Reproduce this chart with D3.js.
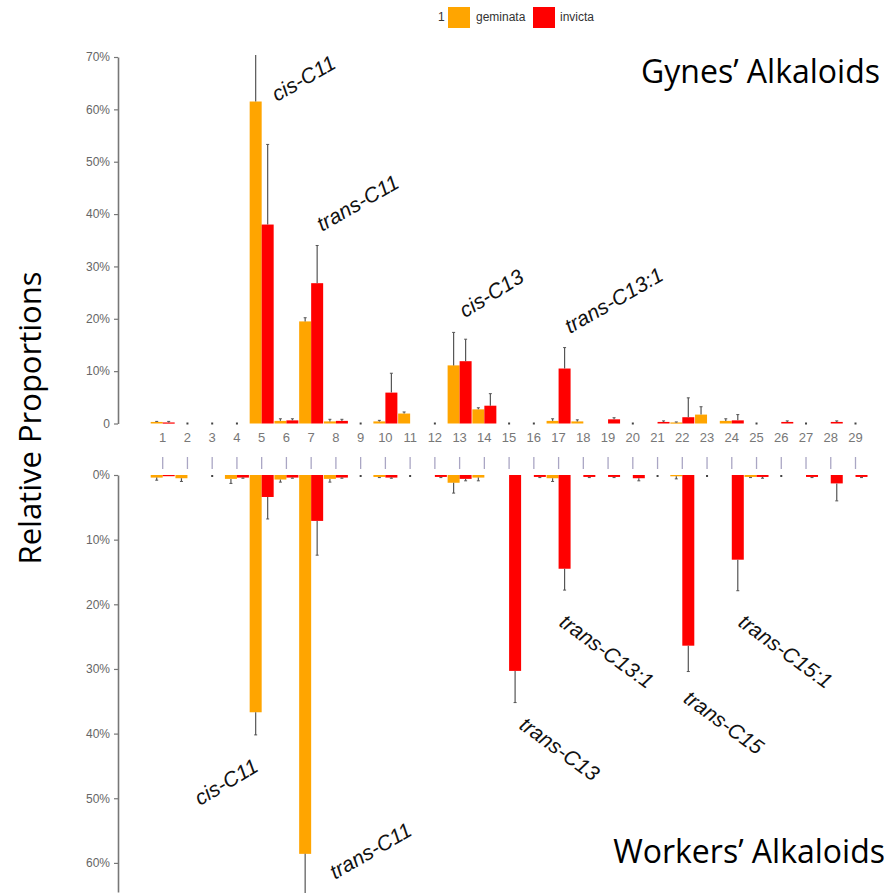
<!DOCTYPE html>
<html><head><meta charset="utf-8">
<script src="https://cdn.jsdelivr.net/npm/d3@7"></script>
<style>body{margin:0;background:#fff}svg{display:block}</style>
</head><body>
<svg id="c" width="888" height="893"></svg>
<script>
// ---------- DATA ----------
const categories = d3.range(1, 30); // 1..29
const seriesNames = ["geminata", "invicta"];
const legendTitle = "1";
// Gynes (top panel), % values and upper end of error bar
const gemTop    = [0.3,0,0,0,61.5,0.5,19.5,0.4,0,0.4,1.9,0,11.1,2.7,0,0,0.5,0.4,0,0,0,0.2,1.7,0.5,0,0,0,0,0];
const gemTopErr = [0.4,0,0,0,70.5,0.9,20.2,0.8,0,0.6,2.2,0,17.4,3.0,0,0,0.9,0.7,0,0,0,0.3,3.2,0.9,0,0,0,0,0];
const invTop    = [0.2,0,0,0,38.0,0.6,26.8,0.5,0,5.9,0,0,11.9,3.4,0,0,10.5,0,0.8,0,0.3,1.2,0,0.6,0,0.3,0,0.3,0];
const invTopErr = [0.4,0,0,0,53.3,0.9,34.0,0.8,0,9.6,0,0,16.1,5.7,0,0,14.5,0,1.1,0,0.5,4.9,0,1.7,0,0.5,0,0.5,0];
// Workers (bottom panel)
const gemBot    = [0.4,0.5,0,0.6,36.7,0.7,58.6,0.6,0,0.3,0,0,1.2,0.4,0,0,0.5,0,0,0,0,0.2,0,0,0.3,0,0,0,0];
const gemBotErr = [0.8,1.0,0,1.3,40.2,1.1,66.0,1.1,0,0.4,0,0,2.8,0.9,0,0,1.0,0,0,0,0,0.6,0,0,0.4,0,0,0,0];
const invBot    = [0.1,0,0,0.4,3.4,0.4,7.1,0.4,0,0.4,0,0.3,0.6,0,30.3,0.3,14.5,0.3,0.3,0.5,0,26.4,0,13.1,0.3,0,0.3,1.3,0.3];
const invBotErr = [0.1,0,0,0.5,6.8,0.5,12.4,0.5,0,0.5,0,0.4,0.9,0,35.2,0.4,17.8,0.4,0.4,0.9,0,30.4,0,17.9,0.5,0,0.4,4.0,0.4];
const topTicks = [0,10,20,30,40,50,60,70];
const topTickLabels = ["0","10%","20%","30%","40%","50%","60%","70%"];
const botTicks = [0,10,20,30,40,50,60];
const botTickLabels = ["0%","10%","20%","30%","40%","50%","60%"];
const yTitle = "Relative Proportions";
const topTitle = "Gynes\u2019 Alkaloids";
const botTitle = "Workers\u2019 Alkaloids";
// annotations: prefix (italic), suffix, anchor (category, value), panel, angle
const annPrefix = ["cis","trans","cis","trans","cis","trans","trans","trans","trans","trans"];
const annSuffix = ["-C11","-C11","-C13","-C13:1","-C11","-C11","-C13","-C13:1","-C15","-C15:1"];
const annCat    = [5.62,7.44,13.22,17.46,2.51,7.96,15.36,16.98,22.0,24.21];
const annVal    = [61.4,36.6,20.1,17.1,51.2,62.6,39.1,23.2,35.0,23.2];
const annPanel  = ["top","top","top","top","bot","bot","bot","bot","bot","bot"];
const annAngle  = [-30,-30,-32,-30,-31,-30,36,36,36,36];

// ---------- LAYOUT ----------
const colors = {geminata:"#FFA500", invicta:"#FF0000"};
const svg = d3.select("#c");
const xc = d3.scaleLinear().domain([1,29]).range([162.7, 855.5]);
const xs = d3.scaleBand().domain(seriesNames).range([-12, 12]).padding(0);
const yTop = d3.scaleLinear().domain([0,70]).range([423.5, 57]);
const yBot = d3.scaleLinear().domain([0,64.5]).range([475, 892]);
const axisX = 118;

const topData = [], botData = [];
categories.forEach((c,i)=>{
  topData.push({c, s:"geminata", v:gemTop[i], e:gemTopErr[i]});
  topData.push({c, s:"invicta",  v:invTop[i], e:invTopErr[i]});
  botData.push({c, s:"geminata", v:gemBot[i], e:gemBotErr[i]});
  botData.push({c, s:"invicta",  v:invBot[i], e:invBotErr[i]});
});

svg.append("clipPath").attr("id","clipTop").append("rect").attr("x",0).attr("y",55).attr("width",888).attr("height",380);

// bottom panel x ticks (above zero line)
svg.append("g").selectAll("line").data(categories).join("line")
  .attr("x1",d=>xc(d)).attr("x2",d=>xc(d)).attr("y1",457).attr("y2",469)
  .attr("stroke","#aaa6c4").attr("stroke-width",1.3);

function drawPanel(data, y, dir, clip){
  const g = svg.append("g");
  if (clip) g.attr("clip-path","url(#clipTop)");
  const nz = data.filter(d=>d.v>0);
  g.selectAll("rect").data(nz).join("rect")
    .attr("x",d=>xc(d.c)+xs(d.s)).attr("width",xs.bandwidth())
    .attr("y",d=>dir<0 ? y(d.v) : y(0))
    .attr("height",d=>Math.max(1.2, Math.abs(y(d.v)-y(0))))
    .attr("fill",d=>colors[d.s]);
  const ed = data.filter(d=>d.e>d.v);
  g.selectAll("line.err").data(ed).join("line").attr("class","err")
    .attr("x1",d=>xc(d.c)+xs(d.s)+xs.bandwidth()/2).attr("x2",d=>xc(d.c)+xs(d.s)+xs.bandwidth()/2)
    .attr("y1",d=>y(d.v)).attr("y2",d=>y(d.e))
    .attr("stroke","#555").attr("stroke-width",1.2);
  g.selectAll("line.cap").data(ed).join("line").attr("class","cap")
    .attr("x1",d=>xc(d.c)+xs(d.s)+xs.bandwidth()/2-1.5).attr("x2",d=>xc(d.c)+xs(d.s)+xs.bandwidth()/2+1.5)
    .attr("y1",d=>y(d.e)).attr("y2",d=>y(d.e))
    .attr("stroke","#555").attr("stroke-width",1);
  // zero dots for empty categories
  const empty = categories.filter(c=>!data.some(d=>d.c===c && d.v>0));
  g.selectAll("rect.dot").data(empty).join("rect").attr("class","dot")
    .attr("x",d=>xc(d)-1).attr("y",y(0)-(dir<0?1:0)).attr("width",2).attr("height",2).attr("fill","#444");
}
drawPanel(topData, yTop, -1, true);
drawPanel(botData, yBot, 1, false);

// y axes
function yAxis(scale, ticks, labels){
  const ax = d3.axisLeft(scale).tickValues(ticks).tickSize(4).tickSizeOuter(0)
    .tickFormat((d,i)=>labels[i]);
  const g = svg.append("g").attr("transform",`translate(${axisX},0)`).call(ax);
  g.select(".domain").attr("stroke","#777").attr("stroke-width",1.6);
  g.selectAll(".tick line").attr("stroke","#777").attr("stroke-width",1.2);
  g.selectAll(".tick text").attr("fill","#666").attr("font-size",12)
    .attr("font-family","Liberation Sans, Arial, sans-serif").attr("x",-8);
  return g;
}
yAxis(yTop, topTicks, topTickLabels);
yAxis(yBot, botTicks, botTickLabels);

// category labels
svg.append("g").selectAll("text").data(categories).join("text")
  .attr("x",d=>xc(d)).attr("y",442).attr("text-anchor","middle")
  .attr("font-family","Liberation Sans, Arial, sans-serif").attr("font-size",13)
  .attr("fill","#777").text(d=>d);

// annotations
annPrefix.forEach((p,i)=>{
  const y = annPanel[i]==="top" ? yTop : yBot;
  const x0 = xc(annCat[i]), y0 = y(annVal[i]);
  const t = svg.append("text").attr("transform",`translate(${x0},${y0}) rotate(${annAngle[i]})`)
    .attr("font-family","Liberation Sans, Arial, sans-serif").attr("font-size",21)
    .attr("fill","#111");
  t.append("tspan").attr("font-style","italic").text(p);
  t.append("tspan").attr("font-style","italic").text(annSuffix[i]);
});

// titles
svg.append("text").attr("x",880).attr("y",83).attr("text-anchor","end")
  .attr("font-family","Open Sans, sans-serif").attr("font-size",32).attr("fill","#000").text(topTitle);
svg.append("text").attr("x",885).attr("y",863).attr("text-anchor","end")
  .attr("font-family","Open Sans, sans-serif").attr("font-size",32).attr("fill","#000").text(botTitle);
svg.append("text").attr("transform","translate(41,418) rotate(-90)").attr("text-anchor","middle")
  .attr("font-family","Open Sans, sans-serif").attr("font-size",31).attr("fill","#000").text(yTitle);

// legend
const lg = svg.append("g").attr("font-family","Liberation Sans, Arial, sans-serif").attr("font-size",12).attr("fill","#333");
lg.append("text").attr("x",438).attr("y",21).text(legendTitle);
const lx = [448, 533], tx = [476, 560];
seriesNames.forEach((s,i)=>{
  lg.append("rect").attr("x",lx[i]).attr("y",7).attr("width",22).attr("height",21).attr("fill",colors[s]);
  lg.append("text").attr("x",tx[i]).attr("y",21).text(s);
});
</script>
</body></html>
